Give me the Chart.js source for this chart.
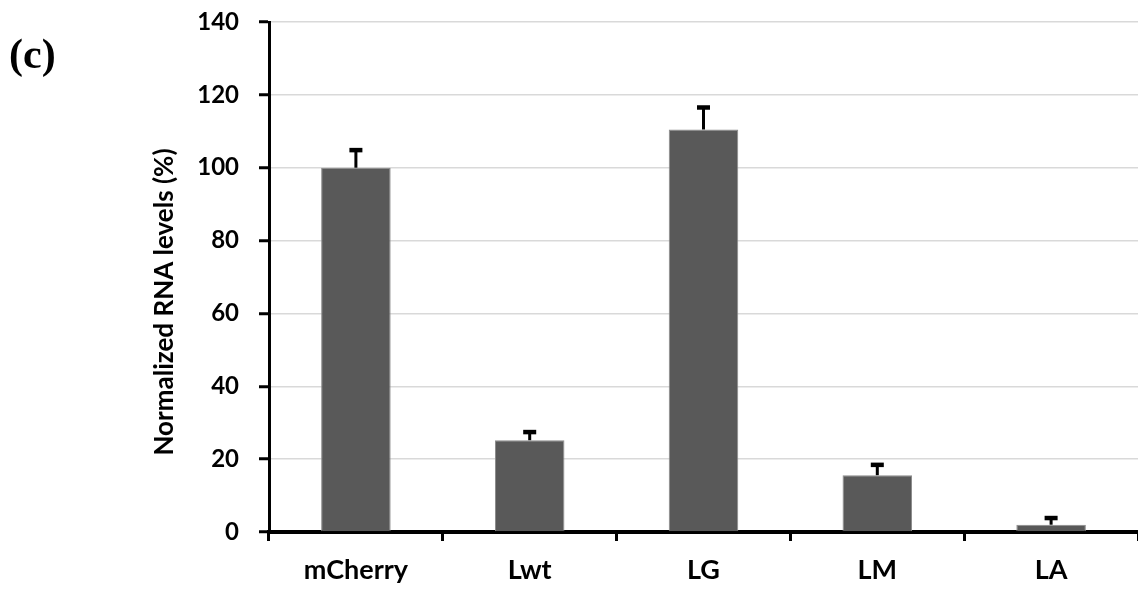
<!DOCTYPE html>
<html>
<head>
<meta charset="utf-8">
<script src="https://cdn.jsdelivr.net/npm/chart.js@4"></script>
<style>
  html, body { margin: 0; padding: 0; background: #fff; }
  #wrap { width: 1138px; height: 591px; position: relative; }
</style>
</head>
<body>
<div id="wrap"><canvas id="c" width="1138" height="591"></canvas></div>
<script>
// Constructs and their normalized RNA levels (%), with standard error
const categories = ['mCherry', 'Lwt', 'LG', 'LM', 'LA'];
const rnaLevels = [100, 25.2, 110.5, 15.6, 2.0];
const rnaErrors = [4.9, 2.3, 6.1, 2.9, 1.9];
const yTicks = [0, 20, 40, 60, 80, 100, 120, 140];

const FONT = 'Lato, "Open Sans", sans-serif';

// Positive error bars (stem + cap) for each bar
const errorBars = {
  id: 'errorBars',
  afterDatasetsDraw(chart) {
    const { ctx } = chart;
    const meta = chart.getDatasetMeta(0);
    const y = chart.scales.y;
    ctx.save();
    ctx.fillStyle = '#000';
    meta.data.forEach((bar, i) => {
      const top = y.getPixelForValue(rnaLevels[i]);
      const capY = y.getPixelForValue(rnaLevels[i] + rnaErrors[i]);
      ctx.fillRect(bar.x - 1.5, capY, 3, top - capY);
      ctx.fillRect(bar.x - 6.5, capY - 2, 13, 4.5);
    });
    ctx.restore();
  }
};

// Panel letter and rotated axis title
const annotations = {
  id: 'annotations',
  afterDraw(chart) {
    const { ctx } = chart;
    ctx.save();
    ctx.fillStyle = '#000';
    ctx.font = 'bold 42px "Liberation Serif", "Times New Roman", serif';
    ctx.textAlign = 'left';
    ctx.textBaseline = 'alphabetic';
    ctx.fillText('(c)', 9, 68);

    ctx.translate(165, 302);
    ctx.rotate(-Math.PI / 2);
    ctx.font = 'bold 26px ' + FONT;
    ctx.textAlign = 'center';
    ctx.textBaseline = 'middle';
    ctx.fillText('Normalized RNA levels (%)', 0, 0);
    ctx.restore();
  }
};

new Chart(document.getElementById('c'), {
  type: 'bar',
  data: {
    labels: categories,
    datasets: [{
      data: rnaLevels,
      backgroundColor: '#595959',
      borderColor: '#8a8a8a',
      borderWidth: 1,
      barPercentage: 0.4,
      categoryPercentage: 1.0
    }]
  },
  options: {
    responsive: false,
    animation: false,
    devicePixelRatio: 1,
    layout: { padding: { top: 22, right: -2, left: 0, bottom: 0 } },
    plugins: {
      legend: { display: false },
      tooltip: { enabled: false }
    },
    scales: {
      x: {
        z: 1,
        grid: {
          drawOnChartArea: false,
          offset: true,
          tickLength: 9,
          tickWidth: 3,
          tickColor: '#000'
        },
        border: { color: '#000', width: 4 },
        ticks: {
          color: '#000',
          padding: 13,
          font: { family: FONT, size: 27, weight: 'bold' }
        },
        afterFit(scale) {
          scale.height = 59;
          scale.paddingLeft = 0;
          scale.paddingRight = 0;
        }
      },
      y: {
        min: 0,
        max: 140,
        afterBuildTicks(scale) { scale.ticks = yTicks.map(v => ({ value: v })); },
        grid: {
          color: '#d9d9d9',
          lineWidth: 1.5,
          tickLength: 10,
          tickWidth: 3,
          tickColor: '#000'
        },
        border: { color: '#000', width: 3 },
        ticks: {
          color: '#000',
          padding: 20,
          font: { family: FONT, size: 24, weight: 'bold' }
        },
        afterFit(scale) {
          scale.width = 269;
          scale.paddingTop = 0;
          scale.paddingBottom = 0;
        }
      }
    }
  },
  plugins: [errorBars, annotations]
});
</script>
</body>
</html>
